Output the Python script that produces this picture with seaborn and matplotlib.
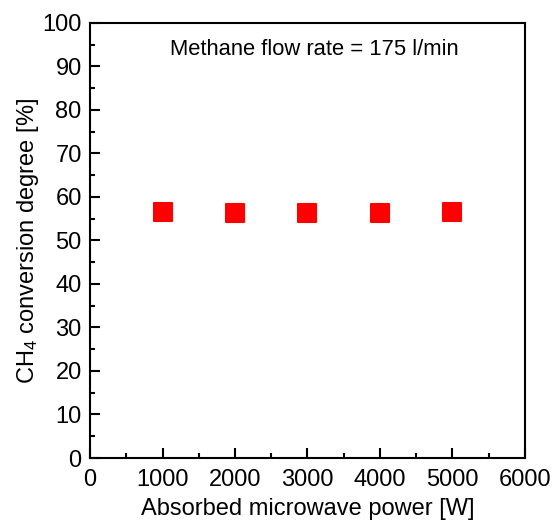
import matplotlib
matplotlib.use("Agg")
import matplotlib.pyplot as plt
import numpy as np
import pandas as pd
import seaborn as sns
from matplotlib.ticker import MultipleLocator

# data
power_w = [1000, 2000, 3000, 4000, 5000]
conversion_pct = [56.6, 56.3, 56.3, 56.4, 56.6]

sns.set_theme(style="ticks")
plt.rcParams["font.family"] = ["Liberation Sans", "DejaVu Sans"]
plt.rcParams["mathtext.fontset"] = "custom"
plt.rcParams["mathtext.rm"] = "Liberation Sans"
plt.rcParams["mathtext.it"] = "Liberation Sans:italic"
plt.rcParams["text.color"] = "black"
plt.rcParams["axes.labelcolor"] = "black"

df = pd.DataFrame({"power": power_w, "conv": conversion_pct})

fig = plt.figure(figsize=(5.56, 5.22), dpi=100)
ax = fig.add_axes([0.162, 0.1226, 0.782, 0.8334])

sns.scatterplot(data=df, x="power", y="conv", marker="s", s=150,
                color="#ff0000", edgecolor="#ff0000", linewidth=1.5,
                ax=ax, zorder=3)
for coll in ax.collections:
    coll.set_joinstyle("round")

ax.set_xlim(0, 6000)
ax.set_ylim(0, 100)
ax.xaxis.set_major_locator(MultipleLocator(1000))
ax.xaxis.set_minor_locator(MultipleLocator(500))
ax.yaxis.set_major_locator(MultipleLocator(10))
ax.yaxis.set_minor_locator(MultipleLocator(5))

ax.tick_params(which="both", direction="in", width=1.5, colors="black",
               labelsize=17, top=False, right=False)
ax.tick_params(axis="x", pad=8)
ax.tick_params(axis="y", pad=6)
ax.tick_params(which="major", length=7)
ax.tick_params(which="minor", length=3.5)

for side in ["left", "right", "top", "bottom"]:
    ax.spines[side].set_visible(True)
    ax.spines[side].set_linewidth(1.5)
    ax.spines[side].set_color("black")

ax.set_xlabel("Absorbed microwave power [W]", fontsize=17, labelpad=5)
ax.set_ylabel(r"CH$_\mathregular{4}$ conversion degree [%]", fontsize=17,
              labelpad=1)

ax.text(0.515, 0.94, "Methane flow rate = 175 l/min", transform=ax.transAxes,
        ha="center", va="center", fontsize=15.8)

fig.savefig("out.png", dpi=100)
